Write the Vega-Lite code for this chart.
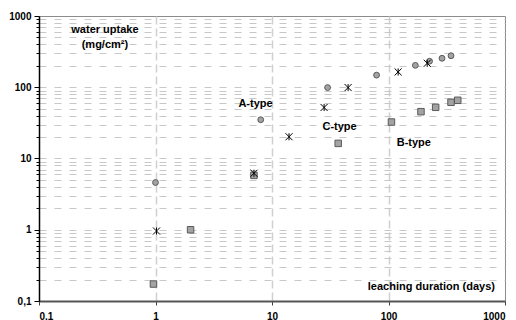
{
  "$schema": "https://vega.github.io/schema/vega-lite/v6.json",
  "width": 466,
  "height": 285,
  "autosize": {"type": "none"},
  "padding": {"left": 39, "top": 16, "right": 11, "bottom": 19},
  "background": "white",
  "config": {
    "view": {"stroke": "#8c8c8c", "strokeWidth": 1},
    "font": "Liberation Sans",
    "axis": {"labelFont": "Liberation Sans", "labelFontWeight": "bold", "labelFontSize": 10, "labelColor": "#000000"}
  },
  "datasets": {
    "points": [
      {"type": "A", "days": 1, "uptake": 4.6},
      {"type": "A", "days": 8, "uptake": 35},
      {"type": "A", "days": 30, "uptake": 99},
      {"type": "A", "days": 79, "uptake": 148},
      {"type": "A", "days": 170, "uptake": 203},
      {"type": "A", "days": 225, "uptake": 232},
      {"type": "A", "days": 288, "uptake": 255},
      {"type": "A", "days": 344, "uptake": 277},
      {"type": "B", "days": 0.96, "uptake": 0.173},
      {"type": "B", "days": 2, "uptake": 1.0},
      {"type": "B", "days": 7, "uptake": 5.8},
      {"type": "B", "days": 37, "uptake": 16.3},
      {"type": "B", "days": 106, "uptake": 32.5},
      {"type": "B", "days": 190, "uptake": 45.4},
      {"type": "B", "days": 254, "uptake": 52.3},
      {"type": "B", "days": 344, "uptake": 61.5},
      {"type": "B", "days": 393, "uptake": 65.6},
      {"type": "C", "days": 1.02, "uptake": 0.96},
      {"type": "C", "days": 7, "uptake": 6.2},
      {"type": "C", "days": 14, "uptake": 20.2},
      {"type": "C", "days": 28, "uptake": 52},
      {"type": "C", "days": 45, "uptake": 99},
      {"type": "C", "days": 121, "uptake": 164},
      {"type": "C", "days": 215, "uptake": 217}
    ],
    "labels": [
      {"label": "A-type", "days": 7.22, "uptake": 58},
      {"label": "C-type", "days": 38, "uptake": 27.7},
      {"label": "B-type", "days": 165, "uptake": 16.5}
    ]
  },
  "layer": [
    {
      "data": {"name": "points"},
      "mark": {"type": "point", "filled": true, "opacity": 1, "strokeWidth": 1},
      "encoding": {
        "x": {
          "field": "days", "type": "quantitative",
          "scale": {"type": "log", "domain": [0.1, 1000], "nice": false},
          "axis": {
            "title": null,
            "values": [0.1, 1, 10, 100, 1000],
            "labelExpr": "datum.value < 1 ? '0.1' : format(datum.value, 'd')",
            "labelPadding": 6,
            "tickSize": 4,
            "tickColor": "#404040",
            "domainColor": "#555555",
            "domainWidth": 2,
            "grid": true,
            "gridColor": {"condition": {"test": "datum.value < 1 || datum.value > 999", "value": "transparent"}, "value": "#d0d0d0"},
            "gridDash": [8, 4],
            "gridWidth": 1.5
          }
        },
        "y": {
          "field": "uptake", "type": "quantitative",
          "scale": {"type": "log", "domain": [0.1, 1000], "nice": false},
          "axis": {
            "title": null,
            "values": [0.1, 0.2, 0.3, 0.4, 0.5, 0.6, 0.7, 0.8, 0.9, 1, 2, 3, 4, 5, 6, 7, 8, 9, 10, 20, 30, 40, 50, 60, 70, 80, 90, 100, 200, 300, 400, 500, 600, 700, 800, 900, 1000],
            "labelExpr": "datum.value < 0.15 ? '0,1' : (datum.value == 1 || datum.value == 10 || datum.value == 100 || datum.value == 1000) ? format(datum.value, 'd') : ''",
            "labelPadding": 3,
            "tickSize": {"condition": {"test": "datum.value < 0.15 || datum.value == 1 || datum.value == 10 || datum.value == 100 || datum.value == 1000", "value": 5}, "value": 3},
            "tickColor": "#000000",
            "domainColor": "#000000",
            "domainWidth": 1.5,
            "grid": true,
            "gridColor": {"condition": {"test": "datum.value < 0.15 || datum.value > 999", "value": "transparent"}, "value": "#c8c8c8"},
            "gridDash": [7, 8],
            "gridWidth": 1
          }
        },
        "shape": {
          "field": "type", "type": "nominal",
          "scale": {"domain": ["A", "B", "C"], "range": ["circle", "square", "M-1,-1L1,1M-1,1L1,-1M0,-1L0,1"]},
          "legend": null
        },
        "fill": {
          "field": "type", "type": "nominal",
          "scale": {"domain": ["A", "B", "C"], "range": ["#a3a3a3", "#a3a3a3", "transparent"]},
          "legend": null
        },
        "stroke": {
          "field": "type", "type": "nominal",
          "scale": {"domain": ["A", "B", "C"], "range": ["#5a5a5a", "#5a5a5a", "#000000"]},
          "legend": null
        },
        "size": {
          "field": "type", "type": "nominal",
          "scale": {"domain": ["A", "B", "C"], "range": [34, 50, 42]},
          "legend": null
        }
      }
    },
    {
      "data": {"name": "labels"},
      "mark": {"type": "text", "font": "Liberation Sans", "fontWeight": "bold", "fontSize": 11, "align": "center", "baseline": "middle", "color": "#000000"},
      "encoding": {
        "x": {"field": "days", "type": "quantitative"},
        "y": {"field": "uptake", "type": "quantitative"},
        "text": {"field": "label"}
      }
    },
    {
      "data": {"values": [{"t": "leaching duration (days)"}]},
      "mark": {"type": "text", "font": "Liberation Sans", "fontWeight": "bold", "fontSize": 11, "align": "right", "baseline": "middle", "color": "#000000"},
      "encoding": {
        "x": {"datum": 820, "type": "quantitative"},
        "y": {"datum": 0.157, "type": "quantitative"},
        "text": {"field": "t"}
      }
    },
    {
      "data": {"values": [{"t": "water uptake"}]},
      "mark": {"type": "text", "font": "Liberation Sans", "fontWeight": "bold", "fontSize": 11, "align": "center", "baseline": "middle", "color": "#000000"},
      "encoding": {
        "x": {"datum": 0.368, "type": "quantitative"},
        "y": {"datum": 635, "type": "quantitative"},
        "text": {"field": "t"}
      }
    },
    {
      "data": {"values": [{"t": "(mg/cm²)"}]},
      "mark": {"type": "text", "font": "Liberation Sans", "fontWeight": "bold", "fontSize": 11, "align": "center", "baseline": "middle", "color": "#000000"},
      "encoding": {
        "x": {"datum": 0.368, "type": "quantitative"},
        "y": {"datum": 392, "type": "quantitative"},
        "text": {"field": "t"}
      }
    }
  ]
}
